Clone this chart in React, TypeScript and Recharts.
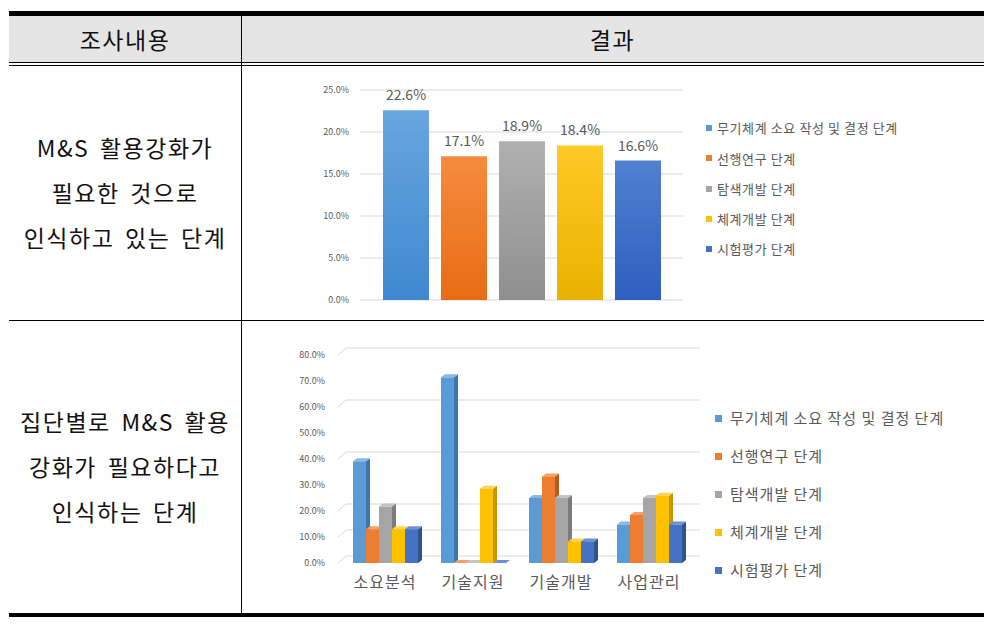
import React from 'react';
import { BarChart, Bar, XAxis, YAxis, CartesianGrid, LabelList } from 'recharts';

const stageNames = [
  '무기체계 소요 작성 및 결정 단계',
  '선행연구 단계',
  '탐색개발 단계',
  '체계개발 단계',
  '시험평가 단계'
];
const stageKeys = ['s1', 's2', 's3', 's4', 's5'];
const stageColors = ['#5B9BD5', '#ED7D31', '#A5A5A5', '#FFC000', '#4472C4'];
const stageTop = ['#68a6de', '#f58b3f', '#b0b0b0', '#ffc926', '#5080d0'];
const stageBottom = ['#3f88d0', '#e86c14', '#8f8f8f', '#e9b200', '#2d5fc0'];
const stageSide = ['#3c78b0', '#b85c1e', '#7c7c7c', '#c79500', '#2f518f'];
const stageLid = ['#86b8e4', '#f3a169', '#c3c3c3', '#ffd456', '#6d8fd3'];

// overall answer, one value per stage (%)
const overallValues = [22.6, 17.1, 18.9, 18.4, 16.6];
const overallTicks = [0, 5, 10, 15, 20, 25];

// by group
const groups = ['소요분석', '기술지원', '기술개발', '사업관리'];
const groupS1 = [39.1, 71.4, 25.0, 14.8];
const groupS2 = [13.0, 0, 33.3, 18.5];
const groupS3 = [21.7, 0, 25.0, 25.0];
const groupS4 = [13.0, 28.6, 8.3, 25.9];
const groupS5 = [13.0, 0, 8.3, 14.8];
const groupTicks = [0, 10, 20, 30, 40, 50, 60, 70, 80];

const overallData = [
  stageKeys.reduce((row: any, k, i) => ({ ...row, [k]: overallValues[i] }), { name: '전체' })
];
const groupSeries = [groupS1, groupS2, groupS3, groupS4, groupS5];
const groupData = groups.map((g, gi) => {
  const row: any = { name: g };
  stageKeys.forEach((k, i) => (row[k] = groupSeries[i][gi]));
  return row;
});

const FONT = '"Noto Sans CJK KR", "Noto Sans", sans-serif';
const pct = (v: number) => `${Number(v).toFixed(1)}%`;

// front face + dark right side + light top, like the excel 3D column.
// bars touch; the side sits behind the next series, which is painted later
function Bar3D(props: any) {
  const { x, y, width, height, idx } = props;
  if (x == null || y == null) return null;
  const d = 4;
  const dy = 3;
  const w = width;
  const h = Math.max(height, 0);
  return (
    <g>
      <polygon
        points={`${x + w},${y} ${x + w + d},${y - dy} ${x + w + d},${y + h - dy} ${x + w},${y + h}`}
        fill={stageSide[idx]}
      />
      <polygon
        points={`${x},${y} ${x + d},${y - dy} ${x + w + d},${y - dy} ${x + w},${y}`}
        fill={stageLid[idx]}
      />
      <rect x={x} y={y} width={w} height={h} fill={stageColors[idx]} />
    </g>
  );
}

const wallLine = (p: any) => (
  <path
    key={p.key}
    d={`M${p.x1 - 3},${p.y1} L${p.x1 + 5},${p.y1 - 7} L${p.x2 + 7},${p.y1 - 7}`}
    stroke="#d9d9d9"
    strokeWidth={1}
    fill="none"
  />
);

function Legend({ left, top, gap, size, box, textLeft, spacing }: any) {
  return (
    <div style={{ position: 'absolute', left, top, fontFamily: FONT, fontSize: size, color: '#595959' }}>
      {stageNames.map((n, i) => (
        <div key={n} style={{ position: 'absolute', top: i * gap, left: 0, whiteSpace: 'nowrap', height: gap }}>
          <span
            style={{
              position: 'absolute',
              left: 0,
              top: -box / 2,
              width: box,
              height: box,
              background: stageColors[i]
            }}
          />
          <span style={{ position: 'absolute', left: textLeft, top: -size * 0.75, lineHeight: 1.5, letterSpacing: spacing }}>
            {n}
          </span>
        </div>
      ))}
    </div>
  );
}

const line = (s: React.CSSProperties) => <div style={{ position: 'absolute', background: '#000', ...s }} />;

const cellText: React.CSSProperties = {
  position: 'absolute',
  left: 9,
  width: 232,
  textAlign: 'center',
  fontFamily: FONT,
  fontSize: 23,
  letterSpacing: 1.5,
  wordSpacing: 4,
  lineHeight: '45px',
  color: '#111',
  whiteSpace: 'nowrap'
};

export default function App() {
  return (
    <div style={{ position: 'absolute', left: 0, top: 0, width: 988, height: 626, background: '#fff', overflow: 'hidden' }}>
      {/* table */}
      <div style={{ position: 'absolute', left: 9, top: 16, width: 975, height: 46, background: '#e5e5e5' }} />
      {line({ left: 9, top: 11, width: 975, height: 5 })}
      {line({ left: 9, top: 62, width: 975, height: 1 })}
      {line({ left: 9, top: 65, width: 975, height: 1 })}
      {line({ left: 9, top: 320, width: 975, height: 1 })}
      {line({ left: 9, top: 613, width: 975, height: 4 })}
      {line({ left: 241, top: 16, width: 1, height: 597 })}
      <div style={{ ...cellText, top: 17 }}>조사내용</div>
      <div style={{ ...cellText, top: 17, left: 241, width: 743 }}>결과</div>
      <div style={{ ...cellText, top: 125 }}>
        M&amp;S 활용강화가
        <br />
        필요한 것으로
        <br />
        인식하고 있는 단계
      </div>
      <div style={{ ...cellText, top: 399 }}>
        집단별로 M&amp;S 활용
        <br />
        강화가 필요하다고
        <br />
        인식하는 단계
      </div>

      {/* chart 1 */}
      <div style={{ position: 'absolute', left: 300, top: 75 }}>
        <BarChart
          width={680}
          height={240}
          data={overallData}
          margin={{ top: 15, right: 297, bottom: 15, left: 0 }}
          barSize={46}
          barGap={12}
        >
          <defs>
            {stageKeys.map((k, i) => (
              <linearGradient key={k} id={`g-${k}`} x1="0" y1="0" x2="0" y2="1">
                <stop offset="0%" stopColor={stageTop[i]} />
                <stop offset="100%" stopColor={stageBottom[i]} />
              </linearGradient>
            ))}
          </defs>
          <CartesianGrid vertical={false} stroke="#d9d9d9" />
          <XAxis dataKey="name" hide />
          <YAxis
            width={60}
            domain={[0, 25]}
            ticks={overallTicks}
            tickFormatter={pct}
            axisLine={false}
            tickLine={false}
            tickMargin={5}
            tick={{ fontSize: 9, fill: '#595959', fontFamily: FONT }}
          />
          {stageKeys.map((k) => (
            <Bar key={k} dataKey={k} fill={`url(#g-${k})`} isAnimationActive={false}>
              <LabelList
                dataKey={k}
                position="top"
                offset={10}
                formatter={pct}
                style={{ fontSize: 14, fill: '#595959', fontFamily: FONT }}
              />
            </Bar>
          ))}
        </BarChart>
      </div>
      <Legend left={706} top={128} gap={30.3} size={13} box={6} textLeft={11} spacing={0.6} />

      {/* chart 2 */}
      <div style={{ position: 'absolute', left: 290, top: 335 }}>
        <BarChart
          width={690}
          height={270}
          data={groupData}
          margin={{ top: 20, right: 287, bottom: 12, left: 0 }}
          barSize={13}
          barGap={0}
        >
          <CartesianGrid vertical={false} horizontal={wallLine} />
          <XAxis
            dataKey="name"
            height={30}
            axisLine={false}
            tickLine={false}
            tickMargin={8}
            interval={0}
            tick={{ fontSize: 16, fill: '#595959', fontFamily: FONT, letterSpacing: 1 }}
          />
          <YAxis
            width={51}
            domain={[0, 80]}
            ticks={groupTicks}
            tickFormatter={pct}
            axisLine={false}
            tickLine={false}
            tickMargin={10}
            tick={{ fontSize: 9, fill: '#595959', fontFamily: FONT }}
          />
          {stageKeys.map((k, i) => (
            <Bar
              key={k}
              dataKey={k}
              fill={stageColors[i]}
              isAnimationActive={false}
              shape={(p: any) => <Bar3D {...p} idx={i} />}
            />
          ))}
        </BarChart>
      </div>
      <Legend left={715} top={418} gap={38} size={15} box={7} textLeft={15} spacing={1} />
    </div>
  );
}
